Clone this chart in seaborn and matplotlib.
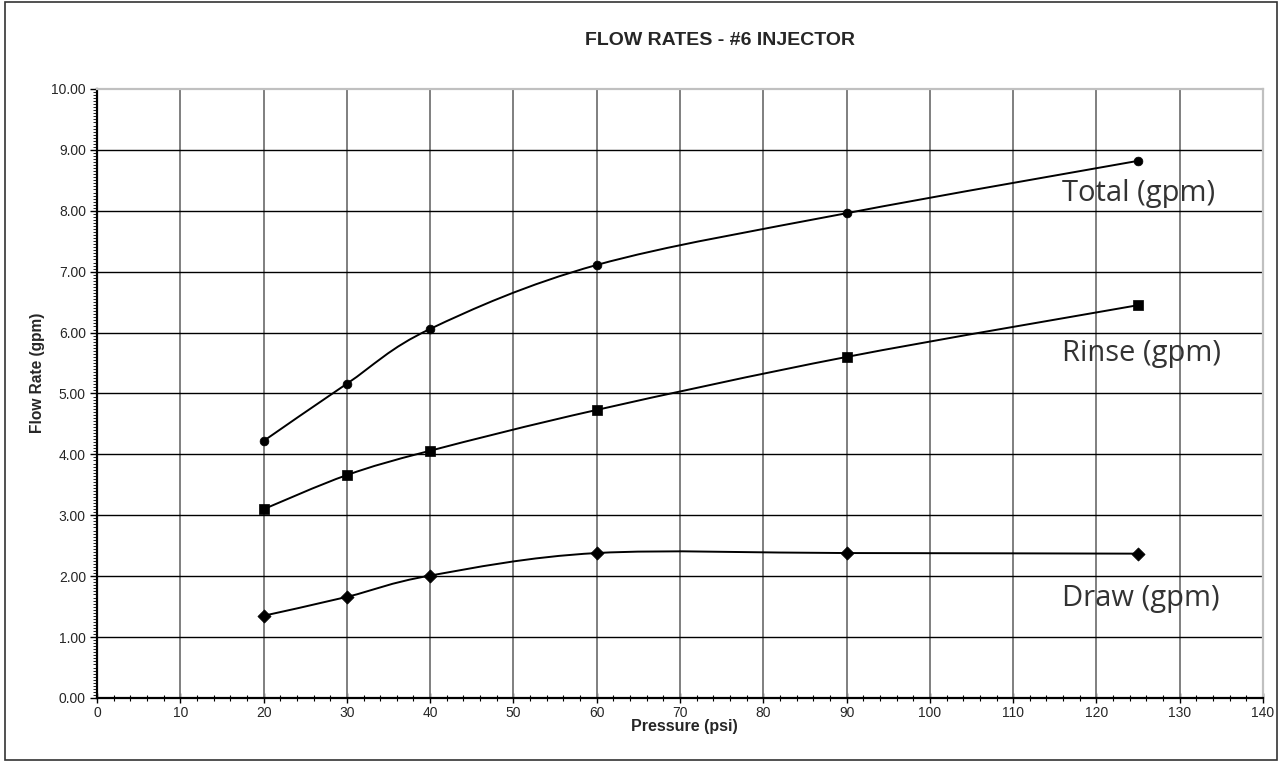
import numpy as np
import pandas as pd
import matplotlib
matplotlib.use("Agg")
import matplotlib.pyplot as plt
import seaborn as sns
from matplotlib.path import Path
from matplotlib.patches import PathPatch, Rectangle
from matplotlib.ticker import MultipleLocator, FormatStrFormatter

pressure = [20, 30, 40, 60, 90, 125]
total_gpm = [4.22, 5.16, 6.06, 7.11, 7.96, 8.82]
rinse_gpm = [3.10, 3.66, 4.06, 4.73, 5.60, 6.45]
draw_gpm = [1.35, 1.66, 2.01, 2.38, 2.38, 2.37]

series_names = ["Total (gpm)", "Rinse (gpm)", "Draw (gpm)"]
series_values = [total_gpm, rinse_gpm, draw_gpm]
series_markers = ["o", "s", "D"]
label_pos = [(115.9, 8.29), (115.9, 5.66), (115.9, 1.63)]

sns.set_style("white")
plt.rcParams['font.family'] = ['Liberation Sans', 'DejaVu Sans']

fig = plt.figure(figsize=(12.78, 7.63), dpi=100)
ax = fig.add_axes([0.0759, 0.0852, 0.9124, 0.7982])

# frame round the whole chart
fig.patches.append(Rectangle((0.004, 0.004), 0.995, 0.993, transform=fig.transFigure,
                             fill=False, edgecolor="#333333", linewidth=1.2))


def smooth_path(xs, ys):
    # Excel-style smoothed line: cubic bezier with neighbour-based control points
    n = len(xs)
    verts = [(xs[0], ys[0])]
    codes = [Path.MOVETO]
    for i in range(n - 1):
        x0, y0 = (xs[i - 1], ys[i - 1]) if i > 0 else (xs[i], ys[i])
        x1, y1 = xs[i], ys[i]
        x2, y2 = xs[i + 1], ys[i + 1]
        x3, y3 = (xs[i + 2], ys[i + 2]) if i + 2 < n else (x2, y2)
        c1 = (x1 + (x2 - x0) / 6, y1 + (y2 - y0) / 6)
        c2 = (x2 - (x3 - x1) / 6, y2 - (y3 - y1) / 6)
        verts += [c1, c2, (x2, y2)]
        codes += [Path.CURVE4] * 3
    return Path(verts, codes)


for name, vals, mk in zip(series_names, series_values, series_markers):
    ax.add_patch(PathPatch(smooth_path(pressure, vals), fill=False,
                           edgecolor="black", linewidth=1.4, zorder=3))
    df = pd.DataFrame({"Pressure": pressure, "Flow": vals})
    sns.scatterplot(data=df, x="Pressure", y="Flow", marker=mk, color="black",
                    s=45 if mk != "o" else 40, edgecolor="black", linewidth=0.5,
                    ax=ax, zorder=4)

for name, (lx, ly) in zip(series_names, label_pos):
    ax.text(lx, ly, name, fontsize=21, color="#333333", family="Open Sans",
            va="center", ha="left", zorder=5)

ax.set_xlim(0, 140)
ax.set_ylim(0, 10)
ax.xaxis.set_major_locator(MultipleLocator(10))
ax.xaxis.set_minor_locator(MultipleLocator(2))
ax.yaxis.set_major_locator(MultipleLocator(1))
ax.yaxis.set_minor_locator(MultipleLocator(0.05))
ax.yaxis.set_major_formatter(FormatStrFormatter("%.2f"))

ax.grid(False)
for v in range(10, 140, 10):
    ax.axvline(v, color="#7f7f7f", linewidth=1.4, zorder=1)
for v in range(1, 10):
    ax.axhline(v, color="black", linewidth=1.0, zorder=1)

ax.tick_params(axis="both", which="both", left=True, bottom=True, color="black")
ax.tick_params(axis="x", which="major", direction="inout", length=7, width=1,
               labelsize=10, pad=2)
ax.tick_params(axis="x", which="minor", direction="inout", length=4, width=0.8)
ax.tick_params(axis="y", which="major", direction="out", length=5, width=1,
               labelsize=10, pad=3)
ax.tick_params(axis="y", which="minor", direction="out", length=3, width=0.6)

ax.spines["left"].set_color("black")
ax.spines["bottom"].set_color("black")
ax.spines["top"].set_color("#c0c0c0")
ax.spines["right"].set_color("#c0c0c0")
for s in ax.spines.values():
    s.set_linewidth(1.6)

ax.set_xlabel("Pressure (psi)", fontsize=11.5, fontweight="bold")
ax.set_ylabel("Flow Rate (gpm)", fontsize=11.2, fontweight="bold")
ax.xaxis.set_label_coords(0.504, -0.035)
ax.yaxis.set_label_coords(-0.045, 0.534)
fig.text(0.5635, 0.947, "FLOW RATES - #6 INJECTOR", fontsize=14, fontweight="bold",
         ha="center", va="center")

fig.savefig("out.png", dpi=100)
